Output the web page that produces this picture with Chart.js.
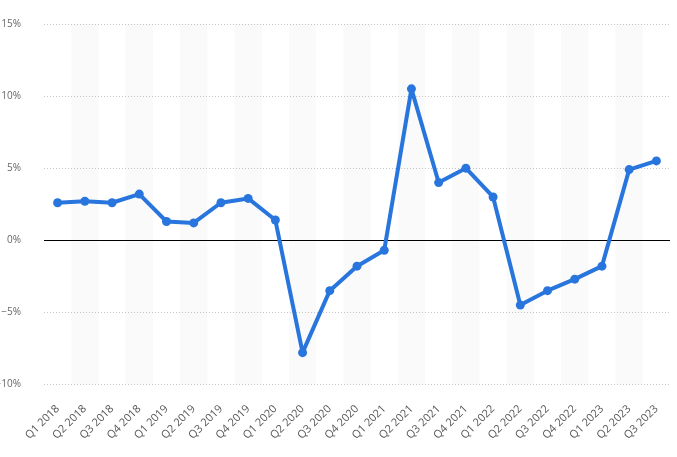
<!DOCTYPE html>
<html>
<head>
<meta charset="utf-8">
<script src="https://cdn.jsdelivr.net/npm/chart.js@4.4.0/dist/chart.umd.min.js"></script>
<style>
  html, body { margin: 0; padding: 0; background: #fff; }
  #wrap { width: 677px; height: 457px; }
</style>
</head>
<body>
<div id="wrap"><canvas id="chart" width="677" height="457"></canvas></div>
<script>
// Quarterly change, Q1 2018 - Q3 2023
const quarters = [
    'Q1 2018', 'Q2 2018', 'Q3 2018', 'Q4 2018',
    'Q1 2019', 'Q2 2019', 'Q3 2019', 'Q4 2019',
    'Q1 2020', 'Q2 2020', 'Q3 2020', 'Q4 2020',
    'Q1 2021', 'Q2 2021', 'Q3 2021', 'Q4 2021',
    'Q1 2022', 'Q2 2022', 'Q3 2022', 'Q4 2022',
    'Q1 2023', 'Q2 2023', 'Q3 2023'
];
const changePct = [
    2.6, 2.7, 2.6, 3.2,
    1.3, 1.2, 2.6, 2.9,
    1.4, -7.8, -3.5, -1.8,
    -0.7, 10.5, 4.0, 5.0,
    3.0, -4.5, -3.5, -2.7,
    -1.8, 4.9, 5.5
];
const yTicks = [-10, -5, 0, 5, 10, 15];

// Alternating grey column bands, dotted grid and black zero line
const bandsPlugin = {
    id: 'bands',
    beforeDatasetsDraw(chart) {
        const { ctx, chartArea, scales } = chart;
        const x = scales.x;
        const y = scales.y;
        const half = (x.getPixelForValue(1) - x.getPixelForValue(0)) / 2;
        ctx.save();
        ctx.fillStyle = '#fafafa';
        quarters.forEach((q, i) => {
            if (i % 2 === 1) {
                const cx = x.getPixelForValue(i);
                ctx.fillRect(cx - half, chartArea.top, half * 2, chartArea.bottom - chartArea.top);
            }
        });
        ctx.strokeStyle = '#c4c4c4';
        ctx.lineWidth = 1;
        ctx.setLineDash([1, 2]);
        yTicks.forEach(v => {
            if (v === 0) return;
            const py = Math.round(y.getPixelForValue(v)) + 0.5;
            ctx.beginPath();
            ctx.moveTo(chartArea.left, py);
            ctx.lineTo(chartArea.right, py);
            ctx.stroke();
        });
        ctx.setLineDash([]);
        const zy = Math.round(y.getPixelForValue(0)) + 0.5;
        ctx.strokeStyle = '#000';
        ctx.lineWidth = 1.2;
        ctx.beginPath();
        ctx.moveTo(chartArea.left, zy);
        ctx.lineTo(chartArea.right, zy);
        ctx.stroke();
        ctx.restore();
    }
};

const ctx = document.getElementById('chart').getContext('2d');
new Chart(ctx, {
    type: 'line',
    data: {
        labels: quarters,
        datasets: [{
            data: changePct,
            borderColor: '#2876dd',
            backgroundColor: '#2876dd',
            borderWidth: 4,
            borderJoinStyle: 'round',
            borderCapStyle: 'round',
            pointRadius: 4.5,
            pointBorderWidth: 0,
            pointHoverRadius: 5,
            tension: 0,
            clip: false
        }]
    },
    options: {
        responsive: false,
        animation: false,
        layout: { padding: { top: 24, right: 7, left: 0, bottom: 5 } },
        plugins: {
            legend: { display: false },
            tooltip: { enabled: false }
        },
        scales: {
            x: {
                offset: true,
                grid: { display: false },
                border: { display: false },
                ticks: {
                    autoSkip: false,
                    maxRotation: 45,
                    minRotation: 45,
                    padding: 10,
                    color: '#555',
                    font: { family: 'Open Sans', size: 11 }
                }
            },
            y: {
                min: -10,
                max: 15,
                afterBuildTicks(axis) {
                    axis.ticks = yTicks.map(v => ({ value: v }));
                },
                afterFit(axis) {
                    axis.width = 44;
                },
                grid: { display: false },
                border: { display: false },
                ticks: {
                    padding: 15,
                    color: '#666',
                    font: { family: 'Open Sans', size: 10 },
                    callback: v => (v < 0 ? '\u2212' + Math.abs(v) : v) + '%'
                }
            }
        }
    },
    plugins: [bandsPlugin]
});
</script>
</body>
</html>
